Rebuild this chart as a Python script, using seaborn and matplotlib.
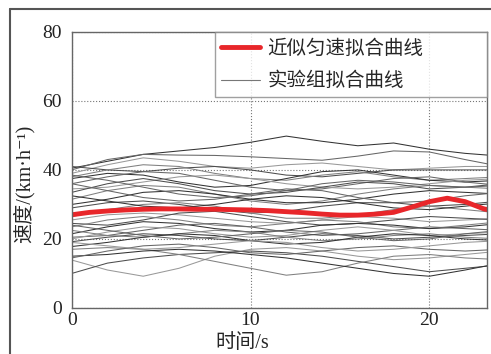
import numpy as np
import pandas as pd
import matplotlib
matplotlib.use('Agg')
import matplotlib.pyplot as plt
from matplotlib.lines import Line2D
import seaborn as sns

sns.set_style('white')
plt.rcParams['font.family'] = ['Liberation Serif', 'DejaVu Serif', 'Noto Sans CJK SC']

# time grid (s) for the experimental curves
t = [0, 2, 4, 6, 8, 10, 12, 14, 16, 18, 20, 22, 24]

# experimental group fitted curves, speed in km/h
g01 = [40.5, 42.5, 44.5, 45.5, 46.5, 48.0, 49.8, 48.3, 47.0, 47.8, 46.0, 44.8, 44.0]
g02 = [40.0, 43.0, 44.5, 44.3, 44.2, 43.8, 43.3, 42.8, 44.0, 45.5, 45.2, 43.0, 41.0]
g03 = [39.0, 41.5, 43.5, 42.5, 41.0, 40.5, 41.5, 42.0, 41.0, 40.0, 40.5, 41.0, 41.0]
g04 = [41.0, 40.0, 39.5, 40.5, 41.0, 40.0, 38.5, 38.0, 39.0, 40.0, 40.0, 40.0, 40.0]
g05 = [38.0, 40.0, 41.5, 41.0, 39.0, 37.5, 37.0, 38.5, 39.5, 38.0, 37.0, 37.5, 38.0]
g06 = [37.5, 39.0, 38.5, 36.5, 35.0, 35.5, 37.5, 39.5, 40.0, 38.5, 37.0, 36.5, 37.0]
g07 = [36.0, 38.0, 39.5, 39.0, 37.0, 35.0, 34.0, 34.5, 36.0, 37.5, 38.0, 36.5, 35.5]
g08 = [34.5, 35.0, 36.5, 38.0, 38.5, 37.5, 36.0, 35.0, 34.5, 35.0, 36.0, 37.0, 37.5]
g09 = [33.5, 36.0, 37.5, 36.0, 34.0, 33.0, 33.5, 35.0, 36.5, 36.0, 34.5, 35.0, 36.0]
g10 = [31.5, 34.0, 35.5, 35.0, 33.0, 31.0, 30.0, 31.0, 33.0, 34.5, 35.5, 35.0, 34.5]
g11 = [30.0, 31.5, 33.5, 34.0, 33.0, 31.5, 30.5, 30.5, 31.5, 33.0, 34.0, 33.5, 33.0]
g12 = [36.0, 34.0, 32.0, 31.0, 31.5, 33.0, 34.5, 34.0, 32.0, 30.5, 31.0, 32.5, 33.5]
g13 = [25.5, 27.0, 27.5, 27.0, 26.0, 25.0, 24.5, 25.5, 26.5, 26.0, 25.0, 25.5, 26.0]
g14 = [24.5, 24.0, 25.5, 27.5, 28.0, 26.5, 25.0, 24.0, 24.5, 25.5, 26.5, 26.0, 25.5]
g15 = [23.5, 25.5, 26.5, 25.5, 24.0, 23.5, 24.5, 25.5, 25.0, 23.5, 23.0, 24.0, 25.0]
g16 = [21.5, 23.5, 25.0, 24.5, 23.0, 22.0, 22.5, 24.0, 24.5, 24.0, 23.0, 23.5, 24.5]
g17 = [20.5, 21.0, 22.5, 24.0, 24.5, 23.5, 22.0, 21.0, 21.5, 22.5, 23.5, 23.0, 22.5]
g18 = [20.0, 22.0, 23.5, 23.0, 21.5, 20.5, 21.0, 22.5, 23.5, 22.5, 21.0, 21.5, 22.0]
g19 = [19.2, 20.5, 21.5, 21.0, 20.0, 19.5, 20.5, 21.5, 21.0, 20.0, 20.5, 21.0, 21.5]
g20 = [22.5, 21.0, 20.5, 21.5, 22.5, 22.0, 20.5, 19.5, 20.0, 21.0, 21.5, 20.5, 20.0]
g21 = [17.8, 19.0, 20.5, 21.5, 21.0, 19.5, 18.5, 19.0, 20.5, 21.5, 21.0, 20.0, 19.5]
g22 = [24.0, 22.5, 21.0, 20.0, 20.5, 21.5, 22.5, 22.0, 20.5, 19.5, 20.0, 21.5, 22.5]
g23 = [13.9, 11.0, 9.2, 11.5, 15.0, 17.0, 17.5, 16.5, 15.0, 14.0, 14.5, 15.5, 16.5]
g24 = [10.0, 13.0, 14.5, 15.5, 16.0, 16.5, 16.0, 15.0, 13.5, 12.0, 10.5, 11.5, 12.5]
g25 = [17.0, 17.5, 17.0, 15.5, 13.5, 11.5, 9.5, 10.5, 13.0, 15.0, 15.5, 14.5, 14.0]
g26 = [15.0, 15.5, 16.5, 17.0, 16.5, 15.5, 14.5, 13.0, 11.5, 10.0, 9.2, 11.0, 13.0]
g27 = [14.5, 16.5, 18.0, 18.5, 17.5, 16.0, 15.5, 16.5, 17.5, 18.0, 17.0, 16.5, 17.0]
g28 = [19.0, 18.0, 17.0, 17.5, 18.5, 19.5, 19.0, 17.5, 16.5, 17.0, 18.0, 19.0, 19.5]
g29 = [29.0, 30.5, 31.0, 30.0, 28.5, 27.5, 28.0, 29.5, 30.5, 30.5, 29.5, 30.0, 31.0]
g30 = [26.5, 28.5, 30.0, 30.5, 29.5, 27.5, 26.0, 26.0, 27.0, 28.5, 29.5, 28.5, 27.5]
g31 = [32.5, 31.0, 29.5, 29.0, 30.0, 31.5, 32.5, 32.0, 30.5, 29.0, 28.5, 29.5, 30.5]
g32 = [38.5, 37.0, 35.0, 33.0, 32.0, 32.5, 34.0, 36.0, 37.0, 36.5, 35.5, 35.0, 35.5]

groups = [g01, g02, g03, g04, g05, g06, g07, g08, g09, g10, g11, g12, g13, g14, g15, g16,
          g17, g18, g19, g20, g21, g22, g23, g24, g25, g26, g27, g28, g29, g30, g31, g32]

# near-uniform-speed fitted curve
red_t = [0, 1, 2, 3, 4, 5, 6, 7, 8, 9, 10, 11, 12, 13, 14, 15, 16, 17, 18, 19, 20, 21, 22, 23, 24]
red_v = [27.0, 27.7, 28.1, 28.4, 28.6, 28.7, 28.7, 28.6, 28.6, 28.5, 28.4, 28.2, 27.9, 27.6,
         27.2, 26.9, 26.9, 27.2, 27.7, 29.2, 30.8, 31.8, 30.8, 28.8, 27.5]

labels = ['近似匀速拟合曲线', '实验组拟合曲线']

rows = []
for i, g in enumerate(groups):
    for tt, vv in zip(t, g):
        rows.append((i, tt, vv))
df = pd.DataFrame(rows, columns=['curve', 'time', 'speed'])
red_df = pd.DataFrame({'time': red_t, 'speed': red_v})

fig = plt.figure(figsize=(4.91, 3.54), dpi=100)
ax = fig.add_axes([0.146, 0.130, 0.845, 0.780])

grays = ['#333333', '#666666', '#999999', '#4d4d4d', '#808080']
pal = [grays[i % len(grays)] for i in range(len(groups))]
sns.lineplot(data=df, x='time', y='speed', hue='curve', palette=pal, estimator=None,
             linewidth=0.75, legend=False, ax=ax)
sns.lineplot(data=red_df, x='time', y='speed', color='#e8262a', linewidth=3.5, ax=ax)

ax.set_xlim(0, 23.2)
ax.set_ylim(0, 80)
ax.set_xticks([0, 10, 20])
ax.set_yticks([0, 20, 40, 60, 80])
ax.grid(True, linestyle=':', color='#777777', linewidth=0.8)
ax.tick_params(labelsize=14, length=0, colors='#222222')
ax.tick_params(axis='y', pad=7)
ax.tick_params(axis='x', pad=3)
for s in ax.spines.values():
    s.set_color('#666666')
    s.set_linewidth(1)

ax.set_xlabel('时间/s', fontsize=14.5)
ax.xaxis.set_label_coords(0.41, -0.095)
ax.set_ylabel('速度/(km·h⁻¹)', fontsize=14.5)
ax.yaxis.set_label_coords(-0.09, 0.45)

handles = [Line2D([], [], color='#e8262a', linewidth=3.5),
           Line2D([], [], color='#777777', linewidth=0.8)]
leg = ax.legend(handles, labels, loc='upper left', bbox_to_anchor=(0.345, 0, 0.655, 1.0),
                mode='expand', frameon=True, fancybox=False, borderaxespad=0,
                handlelength=2.0, labelspacing=0.6, borderpad=0.3, handletextpad=0.4,
                prop={'family': ['Noto Sans CJK SC'], 'size': 14})
leg.get_frame().set_edgecolor('#888888')
leg.get_frame().set_linewidth(1)

# outer frame of the figure
fig.add_artist(Line2D([10 / 491, 10 / 491], [0, 1 - 9 / 354], transform=fig.transFigure,
                      color='#555555', linewidth=1.5))
fig.add_artist(Line2D([10 / 491, 1], [1 - 9 / 354, 1 - 9 / 354], transform=fig.transFigure,
                      color='#555555', linewidth=1.5))

fig.savefig('out.png', dpi=100)
